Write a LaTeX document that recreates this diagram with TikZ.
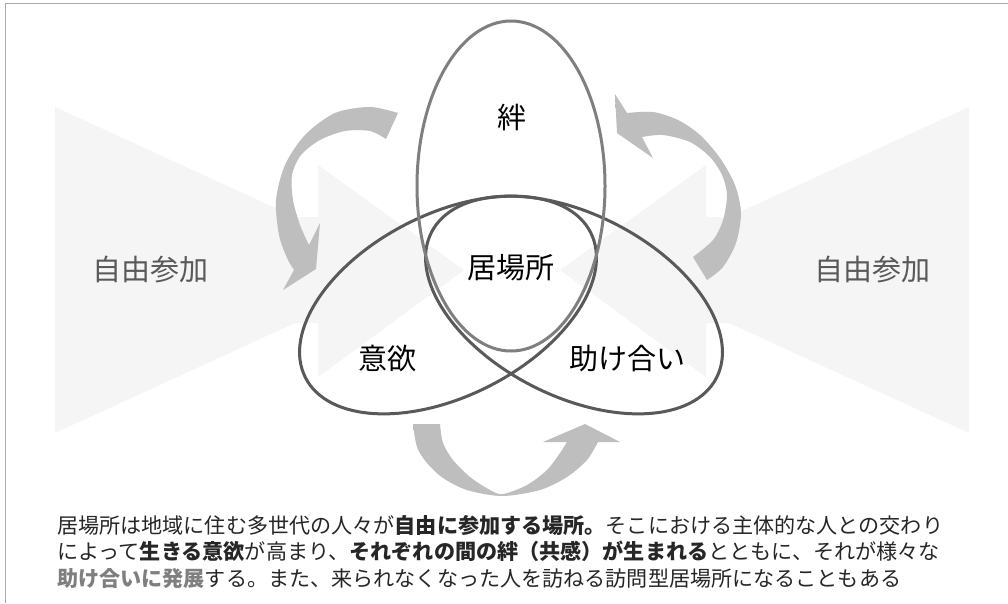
\documentclass[tikz,border=0pt]{standalone}
\usepackage{fontspec}
\setmainfont{Noto Sans CJK JP}
\definecolor{framegray}{HTML}{ABABAB}
\definecolor{bgshape}{HTML}{F5F5F5}
\definecolor{arrowgray}{HTML}{BEBEBE}
\definecolor{arrowlight}{HTML}{DADADA}
\definecolor{ringtop}{HTML}{7F7F7F}
\definecolor{ringlow}{HTML}{595959}
\definecolor{wordgray}{HTML}{595959}
\definecolor{notegray}{HTML}{262626}
\definecolor{boldgray}{HTML}{7F7F7F}

\begin{document}
\begin{tikzpicture}[x=1pt,y=-1pt,
    ring/.style={line width=3pt},
    word/.style={inner sep=0pt,font=\fontsize{29}{34}\selectfont},
    note/.style={anchor=base west,inner sep=0pt,text=notegray,
      font=\fontsize{21.1}{26}\selectfont}]
  \useasboundingbox (0,0) rectangle (1008,603);
  \fill[white] (0,0) rectangle (1008,603);
  \draw[framegray,line width=1pt] (5,603) -- (5,3) -- (1008,3);

  % wide arrows behind
  \fill[bgshape] (55,107) -- (295,217) -- (318,217) -- (318,165) -- (464,270)
    -- (318,377) -- (318,323) -- (295,323) -- (55,433) -- cycle;
  \fill[bgshape] (969,107) -- (729,217) -- (706,217) -- (706,165) -- (560,270)
    -- (706,377) -- (706,323) -- (729,323) -- (969,433) -- cycle;

  % turning arrows
  \shade[top color=arrowgray,middle color=arrowlight,bottom color=arrowgray]
    plot[smooth] coordinates {(398,113) (370,107) (335,113) (305,135) (285,165)
      (276,200) (279,235) (287,258) (294,270)}
    -- (283,290) -- (316,269) -- (320,223) -- (309,245)
    -- plot[smooth] coordinates {(309,245) (300,225) (293,200) (292,175)
      (301,155) (320,140) (345,131) (370,131) (386,139)}
    -- cycle;
  \shade[top color=arrowgray,middle color=arrowlight,bottom color=arrowgray]
    plot[smooth] coordinates {(707,280) (723,267) (736,243) (741,213) (735,185)
      (720,158) (700,135) (678,120) (653,112) (627,113)}
    -- (615,94) -- (617,133) -- (653,158) -- (642,137)
    -- plot[smooth] coordinates {(642,137) (663,135) (690,142) (710,157)
      (722,175) (727,195) (723,220) (713,240) (693,257)}
    -- cycle;
  \shade[left color=arrowgray,middle color=arrowlight,right color=arrowgray]
    plot[smooth] coordinates {(413,424) (417,447) (427,463) (443,478) (467,490)
      (502,496) (540,490) (567,477) (587,460) (598,442)}
    -- (620,442) -- (585,424) -- (543,442) -- (567,442)
    -- plot[smooth] coordinates {(567,442) (560,453) (547,470) (527,485)
      (503,494) (490,490) (470,477) (453,460) (443,443) (440,424)}
    -- cycle;

  % rings
  \draw[ring,ringlow,rotate around={27:(448,305)}] (448,305)
    ellipse [x radius=160,y radius=91];
  \draw[ring,ringlow,rotate around={-27:(574,305)}] (574,305)
    ellipse [x radius=160,y radius=91];
  \draw[ring,ringtop] (511,186) ellipse [x radius=94,y radius=165];

  \node[word] (kizuna) at (512,118) {絆};
  \node[word] (ibasho) at (511,268) {居場所};
  \node[word] (iyoku) at (387,358) {意欲};
  \node[word] (tasuke) at (627,359) {助け合い};
  \node[word,text=wordgray] (jiyuL) at (150,270) {自由参加};
  \node[word,text=wordgray] (jiyuR) at (872,270) {自由参加};

  \node[note] (line1) at (57,533) {居場所は地域に住む多世代の人々が\textbf{自由に参加する場所。}そこにおける主体的な人との交わり};
  \node[note] (line2) at (57,559.5) {によって\textbf{生きる意欲}が高まり、\textbf{それぞれの間の絆（共感）が生まれる}とともに、それが様々な};
  \node[note] (line3) at (57,586) {\textbf{\textcolor{boldgray}{助け合いに発展}}する。また、来られなくなった人を訪ねる訪問型居場所になることもある};
\end{tikzpicture}
\end{document}
